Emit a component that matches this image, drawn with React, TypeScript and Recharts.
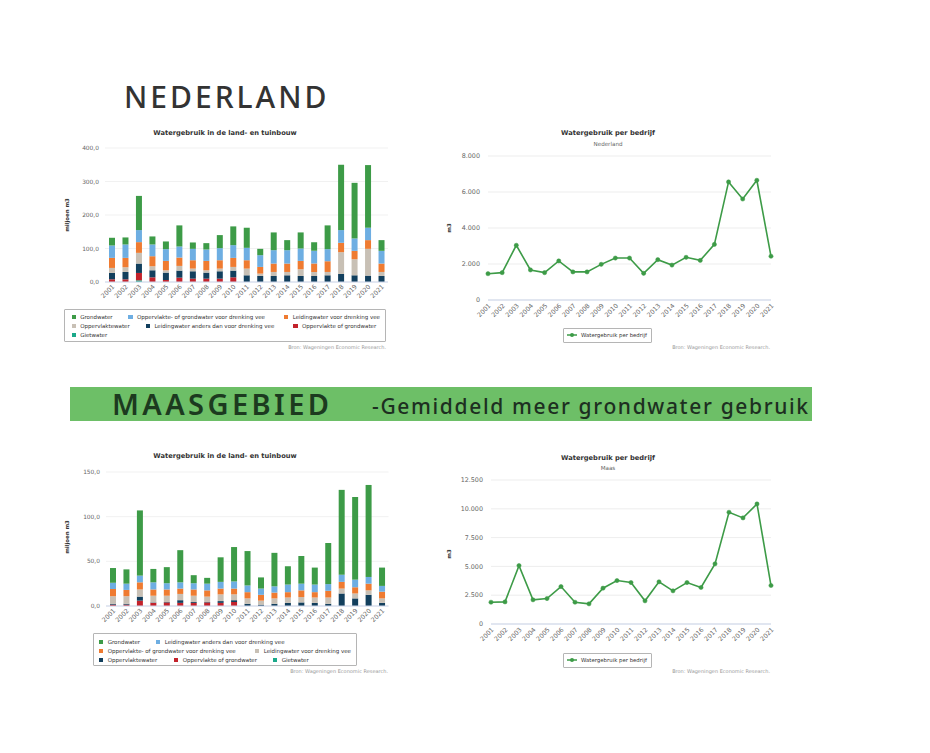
import React from "react";
import { BarChart, Bar, LineChart, Line, XAxis, YAxis, CartesianGrid } from "recharts";

const years = [
  "2001", "2002", "2003", "2004", "2005", "2006", "2007", "2008", "2009", "2010", "2011",
  "2012", "2013", "2014", "2015", "2016", "2017", "2018", "2019", "2020", "2021",
];

// Nederland, miljoen m3 per bron (onder naar boven gestapeld)
const nlGietwater = [0, 0, 5, 0, 0, 0, 0, 0, 0, 0, 0, 0, 0, 0, 0, 0, 0, 0, 0, 0, 0];
const nlOppOfGrond = [8, 8, 22, 14, 6, 13, 10, 10, 10, 14, 0, 0, 0, 0, 0, 0, 0, 0, 0, 0, 0];
const nlLeidingAnders = [19, 22, 28, 21, 22, 21, 22, 18, 22, 20, 20, 18, 18, 20, 18, 18, 20, 24, 20, 19, 18];
const nlOppWater = [15, 14, 32, 12, 7, 14, 8, 7, 8, 11, 20, 7, 12, 10, 20, 12, 10, 65, 48, 80, 12];
const nlLeidingDrenking = [30, 28, 32, 30, 28, 25, 25, 28, 25, 27, 25, 20, 25, 25, 25, 25, 32, 28, 25, 26, 25];
const nlOppGrondDrenking = [37, 40, 36, 35, 35, 33, 34, 34, 36, 38, 37, 35, 40, 40, 37, 38, 36, 38, 37, 37, 38];
const nlGrondwater = [23, 21, 102, 24, 23, 63, 19, 19, 39, 56, 60, 19, 53, 30, 48, 26, 71, 195, 166, 187, 32];

// Maasgebied, miljoen m3 per bron
const maGietwater = [0, 0, 0, 0, 0, 0, 0, 0, 0, 0, 0, 0, 0, 0, 0, 0, 0, 0, 0, 0, 0];
const maOppOfGrond = [1.5, 1.5, 6, 3.5, 4, 3.5, 3.5, 4, 3.5, 4.5, 0, 0, 0, 0, 0, 0, 0, 0, 0, 0, 0];
const maOppWater = [1, 1, 4.5, 0.5, 0.5, 3, 1, 0.5, 2, 2, 2.5, 1.5, 2.5, 3.5, 4, 3.5, 2.5, 14, 8.5, 12.5, 3.5];
const maLeidingDrenking = [8.5, 8.5, 8, 7.5, 7, 7, 7, 6, 7.5, 6.5, 6, 4.5, 6, 6, 6, 6, 7, 5.5, 5.5, 5, 5];
const maOppGrondDrenking = [8, 7, 8, 7, 7, 6, 7, 7, 6.5, 6.5, 7, 6.5, 6.5, 6, 7.5, 6, 7.5, 7.5, 7, 7.5, 7.5];
const maLeidingAnders = [7, 7, 7.5, 8, 7, 7, 7, 7.5, 7.5, 8, 7.5, 7, 7, 8.5, 7.5, 8.5, 7.5, 8, 8.5, 7.5, 6.5];
const maGrondwater = [16.5, 16, 73, 15, 18, 36, 9, 6.5, 27.5, 38.5, 38.5, 12.5, 37.5, 20.5, 31, 19, 46, 95, 92.5, 103, 20.5];

// m3 per bedrijf
const nlPerBedrijf = [1460, 1520, 3040, 1670, 1520, 2170, 1560, 1560, 1980, 2330, 2330, 1480, 2240, 1940, 2370, 2200, 3090, 6560, 5610, 6650, 2430];
const maPerBedrijf = [1890, 1920, 5070, 2100, 2210, 3250, 1890, 1750, 3110, 3770, 3600, 2010, 3660, 2880, 3600, 3170, 5220, 9700, 9210, 10420, 3340];

const nlBarTicks = [0, 100, 200, 300, 400];
const maBarTicks = [0, 50, 100, 150];
const nlLineTicks = [0, 2000, 4000, 6000, 8000];
const maLineTicks = [0, 2500, 5000, 7500, 10000, 12500];

const C = {
  green: "#3d9b47",
  blue: "#6eaee2",
  orange: "#ef7b31",
  beige: "#c8c0b5",
  navy: "#123f5d",
  red: "#c3222b",
  teal: "#1ba98a",
};

const FONT = '"DejaVu Sans", Verdana, sans-serif';

// series in legend order (top of stack first)
const nlSeries = [
  { key: "gw", name: "Grondwater", color: C.green, values: nlGrondwater },
  { key: "ogd", name: "Oppervlakte- of grondwater voor drenking vee", color: C.blue, values: nlOppGrondDrenking },
  { key: "ldv", name: "Leidingwater voor drenking vee", color: C.orange, values: nlLeidingDrenking },
  { key: "ow", name: "Oppervlaktewater", color: C.beige, values: nlOppWater },
  { key: "lad", name: "Leidingwater anders dan voor drenking vee", color: C.navy, values: nlLeidingAnders },
  { key: "oog", name: "Oppervlakte of grondwater", color: C.red, values: nlOppOfGrond },
  { key: "giet", name: "Gietwater", color: C.teal, values: nlGietwater },
];

const maSeries = [
  { key: "gw", name: "Grondwater", color: C.green, values: maGrondwater },
  { key: "lad", name: "Leidingwater anders dan voor drenking vee", color: C.blue, values: maLeidingAnders },
  { key: "ogd", name: "Oppervlakte- of grondwater voor drenking vee", color: C.orange, values: maOppGrondDrenking },
  { key: "ldv", name: "Leidingwater voor drenking vee", color: C.beige, values: maLeidingDrenking },
  { key: "ow", name: "Oppervlaktewater", color: C.navy, values: maOppWater },
  { key: "oog", name: "Oppervlakte of grondwater", color: C.red, values: maOppOfGrond },
  { key: "giet", name: "Gietwater", color: C.teal, values: maGietwater },
];

// legend layout: [key, x] per row
const nlLegendRows = [
  [["gw", 71.5], ["ogd", 128.3], ["ldv", 284]],
  [["ow", 71.5], ["lad", 145.7], ["oog", 293.3]],
  [["giet", 71.5]],
];
const maLegendRows = [
  [["gw", 99], ["lad", 156]],
  [["ogd", 99], ["ldv", 255]],
  [["ow", 99], ["oog", 174], ["giet", 273]],
];

const buildStack = (series) =>
  years.map((y, i) => {
    const row = { year: y };
    series.forEach((s) => (row[s.key] = s.values[i]));
    return row;
  });

const nlBarData = buildStack(nlSeries);
const maBarData = buildStack(maSeries);
const nlLineData = years.map((y, i) => ({ year: y, value: nlPerBedrijf[i] }));
const maLineData = years.map((y, i) => ({ year: y, value: maPerBedrijf[i] }));

const fmtComma = (v) => v.toFixed(1).replace(".", ",");
const fmtDots = (v) => String(v).replace(/\B(?=(\d{3})+(?!\d))/g, ".");

const abs = (left, top, extra = {}) => ({ position: "absolute", left, top, ...extra });

function Centered({ x, y, w = 240, size, weight = "normal", color = "#333", children }) {
  return (
    <div
      style={abs(x - w / 2, y - size, {
        width: w,
        height: size * 2,
        lineHeight: `${size * 2}px`,
        textAlign: "center",
        fontFamily: FONT,
        fontSize: size,
        fontWeight: weight,
        color,
        whiteSpace: "nowrap",
      })}
    >
      {children}
    </div>
  );
}

function RightText({ right, y, size, color, children }) {
  return (
    <div
      style={abs(right - 300, y - size, {
        width: 300,
        height: size * 2,
        lineHeight: `${size * 2}px`,
        textAlign: "right",
        fontFamily: FONT,
        fontSize: size,
        color,
        whiteSpace: "nowrap",
      })}
    >
      {children}
    </div>
  );
}

function VLabel({ x, y, children }) {
  return (
    <div
      style={abs(x - 40, y - 5, {
        width: 80,
        height: 10,
        lineHeight: "10px",
        textAlign: "center",
        fontFamily: FONT,
        fontSize: 5.4,
        fontWeight: "bold",
        color: "#333",
        transform: "rotate(-90deg)",
        whiteSpace: "nowrap",
      })}
    >
      {children}
    </div>
  );
}

function StackLegend({ series, rows, box, rowY }) {
  const byKey = {};
  series.forEach((s) => (byKey[s.key] = s));
  return (
    <>
      <div
        style={abs(box.left, box.top, {
          width: box.width,
          height: box.height,
          border: "1px solid #b5b5b5",
          borderRadius: 1,
          boxSizing: "border-box",
        })}
      />
      {rows.map((row, ri) =>
        row.map(([key, x]) => (
          <div
            key={key}
            style={abs(x, rowY[ri] - 5, {
              height: 10,
              lineHeight: "10px",
              fontFamily: FONT,
              fontSize: 5.5,
              color: "#333",
              whiteSpace: "nowrap",
              display: "flex",
              alignItems: "center",
            })}
          >
            <span style={{ display: "inline-block", width: 4.3, height: 4.3, background: byKey[key].color, marginRight: 4.4 }} />
            {byKey[key].name}
          </div>
        ))
      )}
    </>
  );
}

function LineLegend({ left, top, label }) {
  return (
    <div
      style={abs(left, top, {
        width: 89,
        height: 14.5,
        border: "1px solid #b5b5b5",
        borderRadius: 1,
        boxSizing: "border-box",
        display: "flex",
        alignItems: "center",
        fontFamily: FONT,
        fontSize: 5.4,
        color: "#333",
        whiteSpace: "nowrap",
      })}
    >
      <svg width={14} height={8} style={{ marginLeft: 2, marginRight: 1 }}>
        <line x1={1} y1={4} x2={11} y2={4} stroke={C.green} strokeWidth={1.5} />
        <circle cx={6} cy={4} r={2} fill={C.green} />
      </svg>
      {label}
    </div>
  );
}

function StackChart({ data, series, ticks, box }) {
  const stackOrder = [...series].reverse();
  return (
    <div style={abs(box.left, box.top)}>
      <BarChart
        width={box.width}
        height={box.height}
        data={data}
        margin={{ top: box.mt, right: box.mr, bottom: 0, left: 0 }}
        barSize={6}
      >
        <CartesianGrid vertical={false} stroke="#ededed" strokeWidth={0.8} />
        <XAxis
          dataKey="year"
          interval={0}
          angle={-45}
          height={28}
          tickLine={false}
          tickSize={0}
          tickMargin={2}
          axisLine={{ stroke: "#ccd6eb" }}
          tick={{ fontSize: 6.3, fill: "#666", textAnchor: "end", fontFamily: FONT }}
        />
        <YAxis
          width={box.yw}
          domain={[0, ticks[ticks.length - 1]]}
          ticks={ticks}
          tickFormatter={fmtComma}
          axisLine={false}
          tickLine={false}
          tickSize={4}
          tickMargin={2}
          tick={{ fontSize: 5.9, fill: "#666", fontFamily: FONT }}
        />
        {stackOrder.map((s) => (
          <Bar key={s.key} dataKey={s.key} name={s.name} stackId="a" fill={s.color} isAnimationActive={false} />
        ))}
      </BarChart>
    </div>
  );
}

function PerBedrijfChart({ data, ticks, box }) {
  return (
    <div style={abs(box.left, box.top)}>
      <LineChart
        width={box.width}
        height={box.height}
        data={data}
        margin={{ top: box.mt, right: box.mr, bottom: 0, left: 0 }}
      >
        <CartesianGrid vertical={false} stroke="#e9e9e9" strokeWidth={0.8} />
        <XAxis
          dataKey="year"
          interval={0}
          angle={-45}
          height={20}
          tickLine={false}
          tickSize={0}
          tickMargin={3}
          axisLine={{ stroke: "#ccd6eb" }}
          tick={{ fontSize: 6.3, fill: "#666", textAnchor: "end", fontFamily: FONT }}
        />
        <YAxis
          width={box.yw}
          domain={[0, ticks[ticks.length - 1]]}
          ticks={ticks}
          tickFormatter={fmtDots}
          axisLine={false}
          tickLine={false}
          tick={{ fontSize: 6.4, fill: "#666", fontFamily: FONT }}
        />
        <Line
          type="linear"
          dataKey="value"
          name="Watergebruik per bedrijf"
          stroke={C.green}
          strokeWidth={1.6}
          dot={{ r: 2.1, fill: C.green, stroke: C.green, strokeWidth: 0.5 }}
          isAnimationActive={false}
        />
      </LineChart>
    </div>
  );
}

const SOURCE = "Bron: Wageningen Economic Research.";

export default function App() {
  return (
    <div style={{ position: "absolute", left: 0, top: 0, width: 930, height: 753, background: "#fff", overflow: "hidden" }}>
      <div
        style={abs(124, 81.5, {
          fontFamily: '"Noto Sans", sans-serif',
          fontSize: 30,
          lineHeight: "30px",
          fontWeight: 500,
          letterSpacing: 3,
          color: "#333",
          whiteSpace: "nowrap",
        })}
      >
        NEDERLAND
      </div>

      {/* Nederland: bron */}
      <Centered x={225} y={134} size={6.7} weight="bold">Watergebruik in de land- en tuinbouw</Centered>
      <VLabel x={67} y={215}>miljoen m3</VLabel>
      <StackChart
        data={nlBarData}
        series={nlSeries}
        ticks={nlBarTicks}
        box={{ left: 60, top: 125, width: 340, height: 185, mt: 23, mr: 12, yw: 45 }}
      />
      <StackLegend
        series={nlSeries}
        rows={nlLegendRows}
        box={{ left: 64, top: 309, width: 322, height: 33 }}
        rowY={[316.7, 326, 335]}
      />
      <RightText right={386} y={347} size={5} color="#999">{SOURCE}</RightText>

      {/* Nederland: per bedrijf */}
      <Centered x={608} y={134} size={6.7} weight="bold">Watergebruik per bedrijf</Centered>
      <Centered x={608} y={144.5} size={5.6} color="#666">Nederland</Centered>
      <VLabel x={449} y={228}>m3</VLabel>
      <PerBedrijfChart
        data={nlLineData}
        ticks={nlLineTicks}
        box={{ left: 430, top: 125, width: 350, height: 195, mt: 31, mr: 9, yw: 58 }}
      />
      <LineLegend left={563} top={328} label="Watergebruik per bedrijf" />
      <RightText right={770} y={347} size={5} color="#999">{SOURCE}</RightText>

      {/* banner */}
      <div style={abs(70, 387, { width: 742, height: 34, background: "#6dbf67" })}>
        <div
          style={abs(42, 2, {
            fontFamily: '"Noto Sans", sans-serif',
            fontSize: 29,
            lineHeight: "30px",
            fontWeight: 600,
            letterSpacing: 3.4,
            color: "#1c3a1f",
            whiteSpace: "nowrap",
          })}
        >
          MAASGEBIED
        </div>
        <div
          style={abs(302, 6, {
            fontFamily: '"Noto Sans", sans-serif',
            fontSize: 21,
            lineHeight: "26px",
            fontWeight: 500,
            letterSpacing: 1.65,
            color: "#1d2f21",
            whiteSpace: "nowrap",
          })}
        >
          -Gemiddeld meer grondwater gebruik
        </div>
      </div>

      {/* Maas: bron */}
      <Centered x={225} y={457} size={6.7} weight="bold">Watergebruik in de land- en tuinbouw</Centered>
      <VLabel x={67} y={537}>miljoen m3</VLabel>
      <StackChart
        data={maBarData}
        series={maSeries}
        ticks={maBarTicks}
        box={{ left: 60, top: 450, width: 340, height: 184, mt: 22, mr: 11.5, yw: 46 }}
      />
      <StackLegend
        series={maSeries}
        rows={maLegendRows}
        box={{ left: 93, top: 633, width: 264, height: 33 }}
        rowY={[642, 651, 660]}
      />
      <RightText right={388} y={671} size={5} color="#999">{SOURCE}</RightText>

      {/* Maas: per bedrijf */}
      <Centered x={608} y={459} size={6.7} weight="bold">Watergebruik per bedrijf</Centered>
      <Centered x={608} y={469} size={5.6} color="#666">Maas</Centered>
      <VLabel x={449} y={554}>m3</VLabel>
      <PerBedrijfChart
        data={maLineData}
        ticks={maLineTicks}
        box={{ left: 430, top: 450, width: 350, height: 194, mt: 30, mr: 9, yw: 61 }}
      />
      <LineLegend left={563} top={653} label="Watergebruik per bedrijf" />
      <RightText right={770} y={671} size={5} color="#999">{SOURCE}</RightText>
    </div>
  );
}
